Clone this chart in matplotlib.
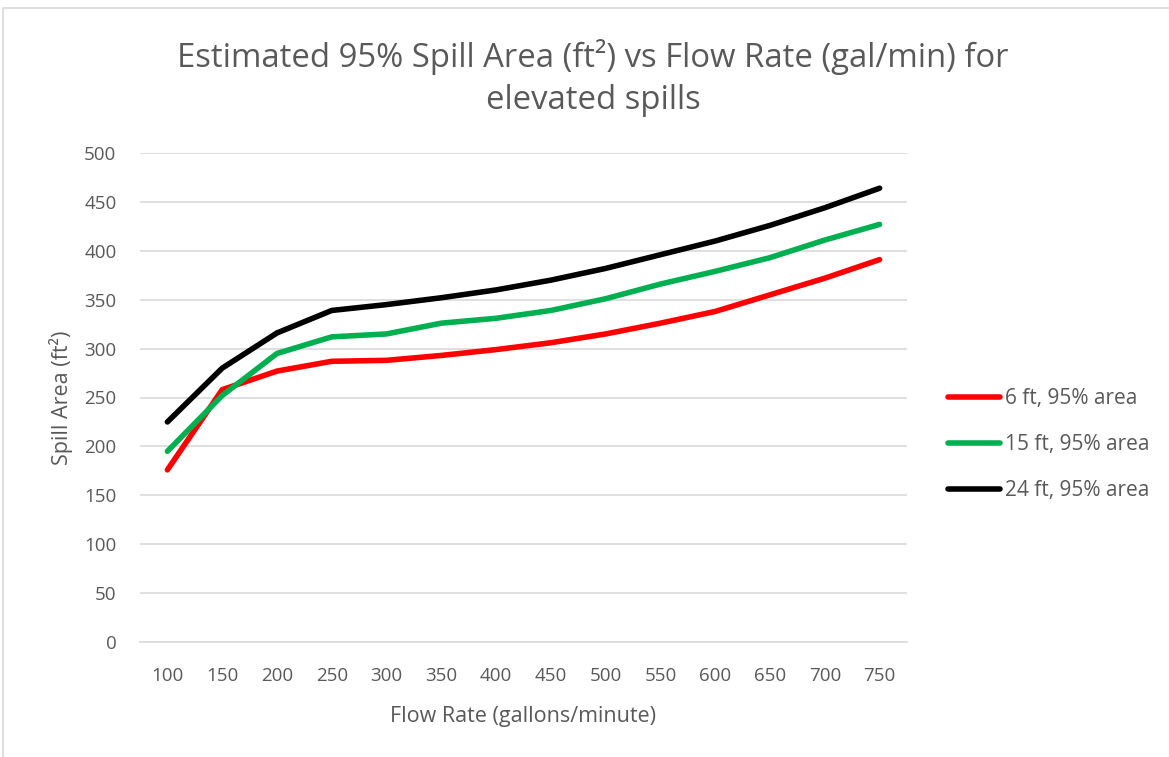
import matplotlib.pyplot as plt
from matplotlib.patches import Rectangle

# Flow rate categories (gallons/minute)
flow_rates = [100, 150, 200, 250, 300, 350, 400, 450, 500, 550, 600, 650, 700, 750]

# Estimated 95% spill area (ft^2) for each drop height
area_6ft = [176, 258, 277, 287, 288, 293, 299, 306, 315, 326, 338, 355, 372, 391]
area_15ft = [195, 252, 295, 312, 315, 326, 331, 339, 351, 366, 379, 393, 411, 427]
area_24ft = [225, 280, 316, 339, 345, 352, 360, 370, 382, 396, 410, 426, 444, 464]

series_labels = ["6 ft, 95% area", "15 ft, 95% area", "24 ft, 95% area"]

plt.rcParams["font.family"] = ["Open Sans", "DejaVu Sans"]
text_color = "#595959"

fig = plt.figure(figsize=(11.69, 7.57), dpi=100)
ax = fig.add_axes([140 / 1169, 1 - 642 / 757, 767 / 1169, 489 / 757])

# chart border like the spreadsheet chart area
fig.patches.append(Rectangle((3 / 1169, -0.01), 1.2, 1 - 8 / 757 + 0.01,
                             transform=fig.transFigure, fill=False,
                             edgecolor="#d9d9d9", linewidth=1.2))

x = list(range(len(flow_rates)))
ax.plot(x, area_6ft, color="#ff0000", linewidth=4, label=series_labels[0],
        solid_capstyle="round")
ax.plot(x, area_15ft, color="#00b050", linewidth=4, label=series_labels[1],
        solid_capstyle="round")
ax.plot(x, area_24ft, color="#000000", linewidth=4, label=series_labels[2],
        solid_capstyle="round")

ax.set_xlim(-0.5, len(flow_rates) - 0.5)
ax.set_ylim(0, 500)
ax.set_yticks(range(0, 501, 50))
ax.set_xticks(x)
ax.set_xticklabels([str(v) for v in flow_rates])
ax.grid(axis="y", color="#d9d9d9", linewidth=1.2)
ax.set_axisbelow(True)
for s in ["top", "right", "left"]:
    ax.spines[s].set_visible(False)
ax.spines["bottom"].set_color("#d9d9d9")
ax.spines["bottom"].set_linewidth(1.2)
ax.tick_params(axis="y", length=0, labelsize=13.5, colors=text_color, pad=17)
ax.tick_params(axis="x", length=0, labelsize=13.5, colors=text_color, pad=18)

ax.set_xlabel("Flow Rate (gallons/minute)", fontsize=15.5, color=text_color, labelpad=15)
ax.set_ylabel("Spill Area (ft²)", fontsize=15.5, color=text_color, labelpad=8)

fig.text(593 / 1169, 1 - 78 / 757,
         "Estimated 95% Spill Area (ft²) vs Flow Rate (gal/min) for\nelevated spills",
         ha="center", va="center", fontsize=23.7, color=text_color,
         linespacing=1.35)

leg = ax.legend(loc="center left", bbox_to_anchor=(1.0535, 0.404), frameon=False,
                fontsize=15, handlelength=2.5, handletextpad=0.25,
                labelspacing=1.2, borderpad=0, borderaxespad=0)
for t in leg.get_texts():
    t.set_color(text_color)

fig.savefig("out.png", dpi=100)
